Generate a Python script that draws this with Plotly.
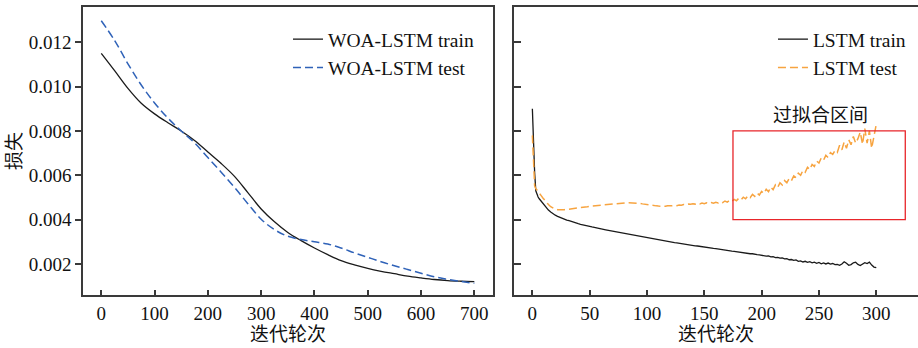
import plotly.graph_objects as go

# ---------------- data ----------------
woa_epochs = [0, 25, 50, 75, 100, 125, 150, 175, 200, 225, 250, 275, 300, 325, 350,
              375, 400, 425, 450, 475, 500, 525, 550, 575, 600, 625, 650, 675, 700]
woa_train = [0.01150, 0.01072, 0.00992, 0.00925, 0.00877, 0.00837, 0.00800, 0.00757,
             0.00705, 0.00653, 0.00595, 0.00522, 0.00448, 0.00390, 0.00342, 0.00305,
             0.00272, 0.00242, 0.00215, 0.00196, 0.00180, 0.00167, 0.00156, 0.00145,
             0.00137, 0.00130, 0.00125, 0.00122, 0.00120]
woa_test = [0.01297, 0.01208, 0.01103, 0.01007, 0.00926, 0.00858, 0.00800, 0.00746,
            0.00680, 0.00614, 0.00545, 0.00472, 0.00402, 0.00355, 0.00325, 0.00310,
            0.00300, 0.00290, 0.00272, 0.00250, 0.00230, 0.00210, 0.00192, 0.00175,
            0.00158, 0.00142, 0.00131, 0.00121, 0.00113]

lstm_epochs = list(range(0, 11)) + list(range(12, 301, 2))
lstm_train = [
    0.00900, 0.00740, 0.00610, 0.00530, 0.00512, 0.00502, 0.00494, 0.00487, 0.00480, 0.00473, 0.00466,
    0.00455, 0.00443, 0.00434, 0.00426, 0.00420, 0.00415, 0.00410, 0.00406, 0.00402, 0.00398,
    0.00395, 0.00391, 0.00388, 0.00385, 0.00382, 0.00379, 0.00376, 0.00374, 0.00371, 0.00369,
    0.00367, 0.00365, 0.00362, 0.00360, 0.00358, 0.00356, 0.00354, 0.00352, 0.00350, 0.00348,
    0.00346, 0.00344, 0.00341, 0.00339, 0.00337, 0.00335, 0.00333, 0.00331, 0.00330, 0.00328,
    0.00326, 0.00324, 0.00322, 0.00320, 0.00318, 0.00316, 0.00314, 0.00312, 0.00310, 0.00309,
    0.00307, 0.00305, 0.00303, 0.00301, 0.00300, 0.00298, 0.00296, 0.00295, 0.00293, 0.00292,
    0.00290, 0.00288, 0.00287, 0.00285, 0.00284, 0.00282, 0.00281, 0.00279, 0.00278, 0.00276,
    0.00275, 0.00273, 0.00272, 0.00270, 0.00269, 0.00267, 0.00266, 0.00265, 0.00263, 0.00262,
    0.00259, 0.00258, 0.00257, 0.00255, 0.00254, 0.00253, 0.00250, 0.00250, 0.00248, 0.00246,
    0.00246, 0.00243, 0.00242, 0.00241, 0.00238, 0.00238, 0.00235, 0.00236, 0.00232, 0.00233,
    0.00229, 0.00230, 0.00226, 0.00227, 0.00223, 0.00224, 0.00219, 0.00220, 0.00216, 0.00218,
    0.00212, 0.00214, 0.00209, 0.00212, 0.00207, 0.00210, 0.00205, 0.00208, 0.00203, 0.00207,
    0.00201, 0.00205, 0.00200, 0.00204, 0.00199, 0.00202, 0.00197, 0.00198, 0.00194, 0.00200,
    0.00210, 0.00203, 0.00194, 0.00197, 0.00205, 0.00208, 0.00198, 0.00193, 0.00200, 0.00206,
    0.00202, 0.00208, 0.00195, 0.00186, 0.00183]
lstm_test = [
    0.00780, 0.00620, 0.00552, 0.00540, 0.00532, 0.00526, 0.00520, 0.00513, 0.00506, 0.00499, 0.00492,
    0.00480, 0.00468, 0.00458, 0.00451, 0.00447, 0.00445, 0.00444, 0.00444, 0.00445, 0.00446,
    0.00447, 0.00449, 0.00450, 0.00451, 0.00453, 0.00454, 0.00456, 0.00457, 0.00458, 0.00460,
    0.00461, 0.00463, 0.00464, 0.00465, 0.00467, 0.00468, 0.00469, 0.00470, 0.00471, 0.00472,
    0.00473, 0.00474, 0.00474, 0.00475, 0.00475, 0.00476, 0.00476, 0.00476, 0.00476, 0.00475,
    0.00474, 0.00473, 0.00471, 0.00469, 0.00467, 0.00466, 0.00464, 0.00463, 0.00462, 0.00461,
    0.00460, 0.00461, 0.00460, 0.00462, 0.00461, 0.00463, 0.00464, 0.00463, 0.00466, 0.00465,
    0.00468, 0.00467, 0.00470, 0.00469, 0.00472, 0.00470, 0.00474, 0.00471, 0.00475, 0.00472,
    0.00476, 0.00473, 0.00477, 0.00474, 0.00478, 0.00475, 0.00481, 0.00477, 0.00484, 0.00479,
    0.00487, 0.00482, 0.00491, 0.00485, 0.00496, 0.00489, 0.00501, 0.00494, 0.00507, 0.00499,
    0.00514, 0.00505, 0.00520, 0.00511, 0.00527, 0.00518, 0.00537, 0.00526, 0.00547, 0.00535,
    0.00557, 0.00545, 0.00566, 0.00556, 0.00576, 0.00566, 0.00586, 0.00576, 0.00597, 0.00589,
    0.00609, 0.00600, 0.00622, 0.00613, 0.00636, 0.00626, 0.00649, 0.00640, 0.00664, 0.00655,
    0.00678, 0.00668, 0.00690, 0.00680, 0.00702, 0.00694, 0.00712, 0.00703, 0.00735, 0.00715,
    0.00750, 0.00722, 0.00760, 0.00738, 0.00775, 0.00745, 0.00765, 0.00795, 0.00740, 0.00810,
    0.00745, 0.00800, 0.00722, 0.00780, 0.00830]

y_ticks = [0.002, 0.004, 0.006, 0.008, 0.010, 0.012]
y_ticktext = ["0.002", "0.004", "0.006", "0.008", "0.010", "0.012"]
x1_ticks = [0, 100, 200, 300, 400, 500, 600, 700]
x2_ticks = [0, 50, 100, 150, 200, 250, 300]
overfit_box = dict(x0=175, x1=325.3, y0=0.004, y1=0.008)

# ---------------- styles ----------------
SERIF = "Liberation Serif, Times New Roman, Noto Sans CJK SC"
BLACK = "#1a1a1a"
BLUE = "#2f62b8"
ORANGE = "#f7a440"
AXC = "#3a3a3a"
YR = [0.0006, 0.01359]

fig = go.Figure()
fig.add_trace(go.Scatter(x=woa_epochs, y=woa_train, mode="lines", name="WOA-LSTM train",
                         line=dict(color=BLACK, width=1.3, shape="spline", smoothing=1.0),
                         xaxis="x", yaxis="y", legend="legend"))
fig.add_trace(go.Scatter(x=woa_epochs, y=woa_test, mode="lines", name="WOA-LSTM test",
                         line=dict(color=BLUE, width=1.5, dash="8px,4px", shape="spline", smoothing=1.0),
                         xaxis="x", yaxis="y", legend="legend"))
fig.add_trace(go.Scatter(x=lstm_epochs, y=lstm_train, mode="lines", name="LSTM train",
                         line=dict(color=BLACK, width=1.3), xaxis="x2", yaxis="y2", legend="legend2"))
fig.add_trace(go.Scatter(x=lstm_epochs, y=lstm_test, mode="lines", name="LSTM test",
                         line=dict(color=ORANGE, width=1.5, dash="8px,4px"), xaxis="x2", yaxis="y2",
                         legend="legend2"))

tickfont = dict(family=SERIF, size=19, color="#111")
common_x = dict(showgrid=False, zeroline=False, showline=True, linecolor=AXC, linewidth=1.5,
                ticks="inside", ticklen=5, tickwidth=1.5, tickcolor=AXC, tickfont=tickfont)
common_y = dict(showgrid=False, zeroline=False, showline=True, linecolor=AXC, linewidth=1.5,
                tickwidth=1.5, tickcolor=AXC, tickfont=tickfont, range=YR, tickvals=y_ticks)

legfont = dict(family=SERIF, size=19.5, color="#111")
fig.update_layout(
    width=918, height=348,
    margin=dict(l=83, r=0, t=7, b=53),
    paper_bgcolor="white", plot_bgcolor="white",
    font=dict(family=SERIF, size=18, color="#111"),
    xaxis=dict(domain=[0, 0.491], range=[-34.3, 735], tickvals=x1_ticks, mirror=True, anchor="y",
               title=dict(text="迭代轮次", font=dict(family=SERIF, size=19), standoff=5), **common_x),
    yaxis=dict(domain=[0, 1], anchor="x", ticktext=y_ticktext, ticks="outside", ticklen=6,
               mirror=True, title=dict(text="损失", font=dict(family=SERIF, size=19), standoff=2),
               **common_y),
    xaxis2=dict(domain=[0.5162, 1], range=[-16, 336.4], tickvals=x2_ticks, mirror=True, anchor="y2",
                title=dict(text="迭代轮次", font=dict(family=SERIF, size=19), standoff=5), **common_x),
    yaxis2=dict(domain=[0, 1], anchor="x2", ticks="inside", ticklen=7, showticklabels=False,
                mirror=False, **common_y),
    legend=dict(x=0.2455, y=0.955, xanchor="left", yanchor="top", bgcolor="rgba(0,0,0,0)",
                font=legfont, tracegroupgap=0),
    legend2=dict(x=0.8263, y=0.955, xanchor="left", yanchor="top", bgcolor="rgba(0,0,0,0)",
                 font=legfont, tracegroupgap=0),
    shapes=[dict(type="rect", xref="x2", yref="y2", line=dict(color="#e8252a", width=1.3),
                 **overfit_box)],
    annotations=[dict(text="过拟合区间", xref="x2", yref="y2", x=251, y=0.00868, showarrow=False,
                      font=dict(family=SERIF, size=19, color="#111"))],
)

fig.write_html("out.html")
